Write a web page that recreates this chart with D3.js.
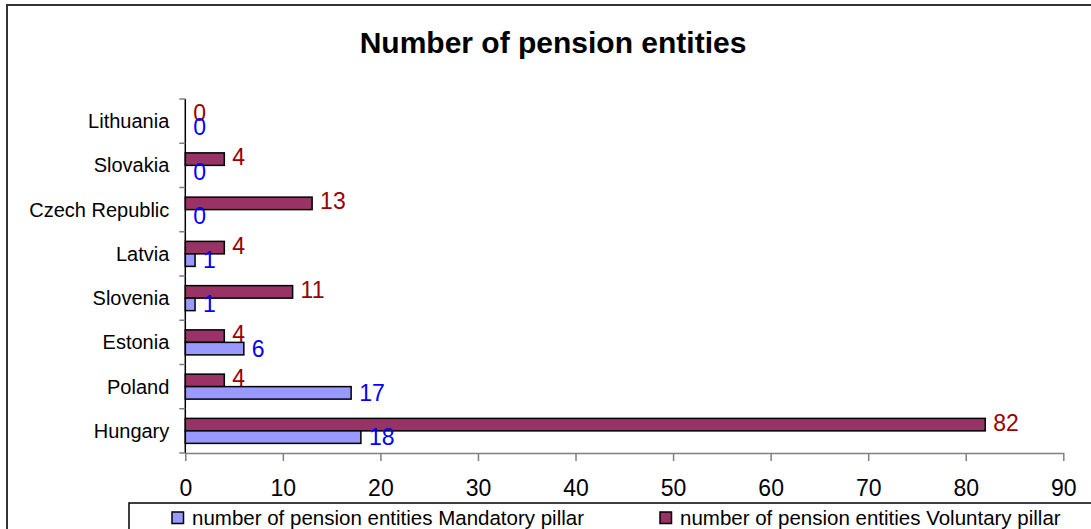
<!DOCTYPE html>
<html>
<head>
<meta charset="utf-8">
<script src="https://cdn.jsdelivr.net/npm/d3@7"></script>
<style>
  html, body { margin: 0; padding: 0; background: #fff; }
  svg { display: block; font-family: "Liberation Sans", Arial, sans-serif; }
</style>
</head>
<body>
<svg id="chart" width="1091" height="529"></svg>
<script>
const categories = ["Lithuania", "Slovakia", "Czech Republic", "Latvia", "Slovenia", "Estonia", "Poland", "Hungary"];
const mandatory = [0, 0, 0, 1, 1, 6, 17, 18];
const voluntary = [0, 4, 13, 4, 11, 4, 4, 82];
const seriesNames = ["number of pension entities Voluntary pillar", "number of pension entities Mandatory pillar"];
const xTicks = [0, 10, 20, 30, 40, 50, 60, 70, 80, 90];
const title = "Number of pension entities";

const colors = { vol: "#993366", mand: "#9999FF", volLabel: "#990000", mandLabel: "#0000FF" };

const svg = d3.select("#chart");

// outer frame
svg.append("rect").attr("x", 7).attr("y", 5).attr("width", 1100).attr("height", 540)
  .attr("fill", "#fff").attr("stroke", "#333").attr("stroke-width", 2);

// title
svg.append("text").attr("x", 553).attr("y", 53).attr("text-anchor", "middle")
  .attr("font-size", 30).attr("font-weight", "bold").attr("fill", "#000").text(title);

const x = d3.scaleLinear().domain([0, 90]).range([185.3, 1063.3]);
const yCat = d3.scaleBand().domain(categories).range([99, 453]).padding(0);
const ySub = d3.scaleBand().domain(["vol", "mand"]).range([0, yCat.bandwidth()]).paddingInner(0).paddingOuter(0.77);

// x axis
const xAxis = svg.append("g").attr("transform", "translate(0,453)")
  .call(d3.axisBottom(x).tickValues(xTicks).tickSize(8).tickPadding(19).tickSizeOuter(0));
xAxis.select(".domain").attr("stroke", "#808080").attr("stroke-width", 1.5);
xAxis.selectAll(".tick line").attr("stroke", "#808080").attr("stroke-width", 1.5);
xAxis.selectAll(".tick text").attr("font-size", 23).attr("fill", "#000")
  .attr("font-family", "'Liberation Sans', Arial, sans-serif");

// bars
const rows = categories.map((c, i) => ({ c, vol: voluntary[i], mand: mandatory[i] }));
const g = svg.append("g");
rows.forEach(r => {
  ["vol", "mand"].forEach(k => {
    const y0 = yCat(r.c) + ySub(k);
    if (r[k] > 0) {
      g.append("rect").attr("x", x(0)).attr("y", y0)
        .attr("width", x(r[k]) - x(0)).attr("height", ySub.bandwidth())
        .attr("fill", colors[k]).attr("stroke", "#000").attr("stroke-width", 1.5);
    }
  });
});

// y axis
const yAxisG = svg.append("g");
yAxisG.append("line").attr("x1", x(0)).attr("x2", x(0)).attr("y1", yCat.range()[0]).attr("y2", yCat.range()[1])
  .attr("stroke", "#000").attr("stroke-width", 1.5);
const bounds = categories.map(c => yCat(c)).concat([yCat.range()[1]]);
yAxisG.selectAll("line.tk").data(bounds).enter().append("line")
  .attr("x1", x(0) - 6).attr("x2", x(0)).attr("y1", d => d).attr("y2", d => d)
  .attr("stroke", "#808080").attr("stroke-width", 1.5);
yAxisG.selectAll("text").data(categories).enter().append("text")
  .attr("x", x(0) - 16).attr("y", d => yCat(d) + yCat.bandwidth() / 2 + 7)
  .attr("text-anchor", "end").attr("font-size", 20).attr("fill", "#000").text(d => d);

// value labels
rows.forEach(r => {
  [["vol", colors.volLabel, -2], ["mand", colors.mandLabel, 0]].forEach(([k, col, off]) => {
    const yc = yCat(r.c) + ySub(k) + ySub.bandwidth() / 2 + off;
    svg.append("text").attr("x", x(r[k]) + 8).attr("y", yc + 8)
      .attr("font-size", 23).attr("fill", col).text(r[k]);
  });
});

// legend
svg.append("rect").attr("x", 129).attr("y", 503).attr("width", 1000).attr("height", 60)
  .attr("fill", "#fff").attr("stroke", "#000").attr("stroke-width", 1.5);
const legendItems = [
  { name: seriesNames[1], color: colors.mand, x: 172 },
  { name: seriesNames[0], color: colors.vol, x: 660 }
];
legendItems.forEach(it => {
  svg.append("rect").attr("x", it.x).attr("y", 512).attr("width", 11.5).attr("height", 11.5)
    .attr("fill", it.color).attr("stroke", "#000").attr("stroke-width", 1.5);
  svg.append("text").attr("x", it.x + 20).attr("y", 525).attr("font-size", 20.5).attr("fill", "#000").text(it.name);
});
</script>
</body>
</html>
